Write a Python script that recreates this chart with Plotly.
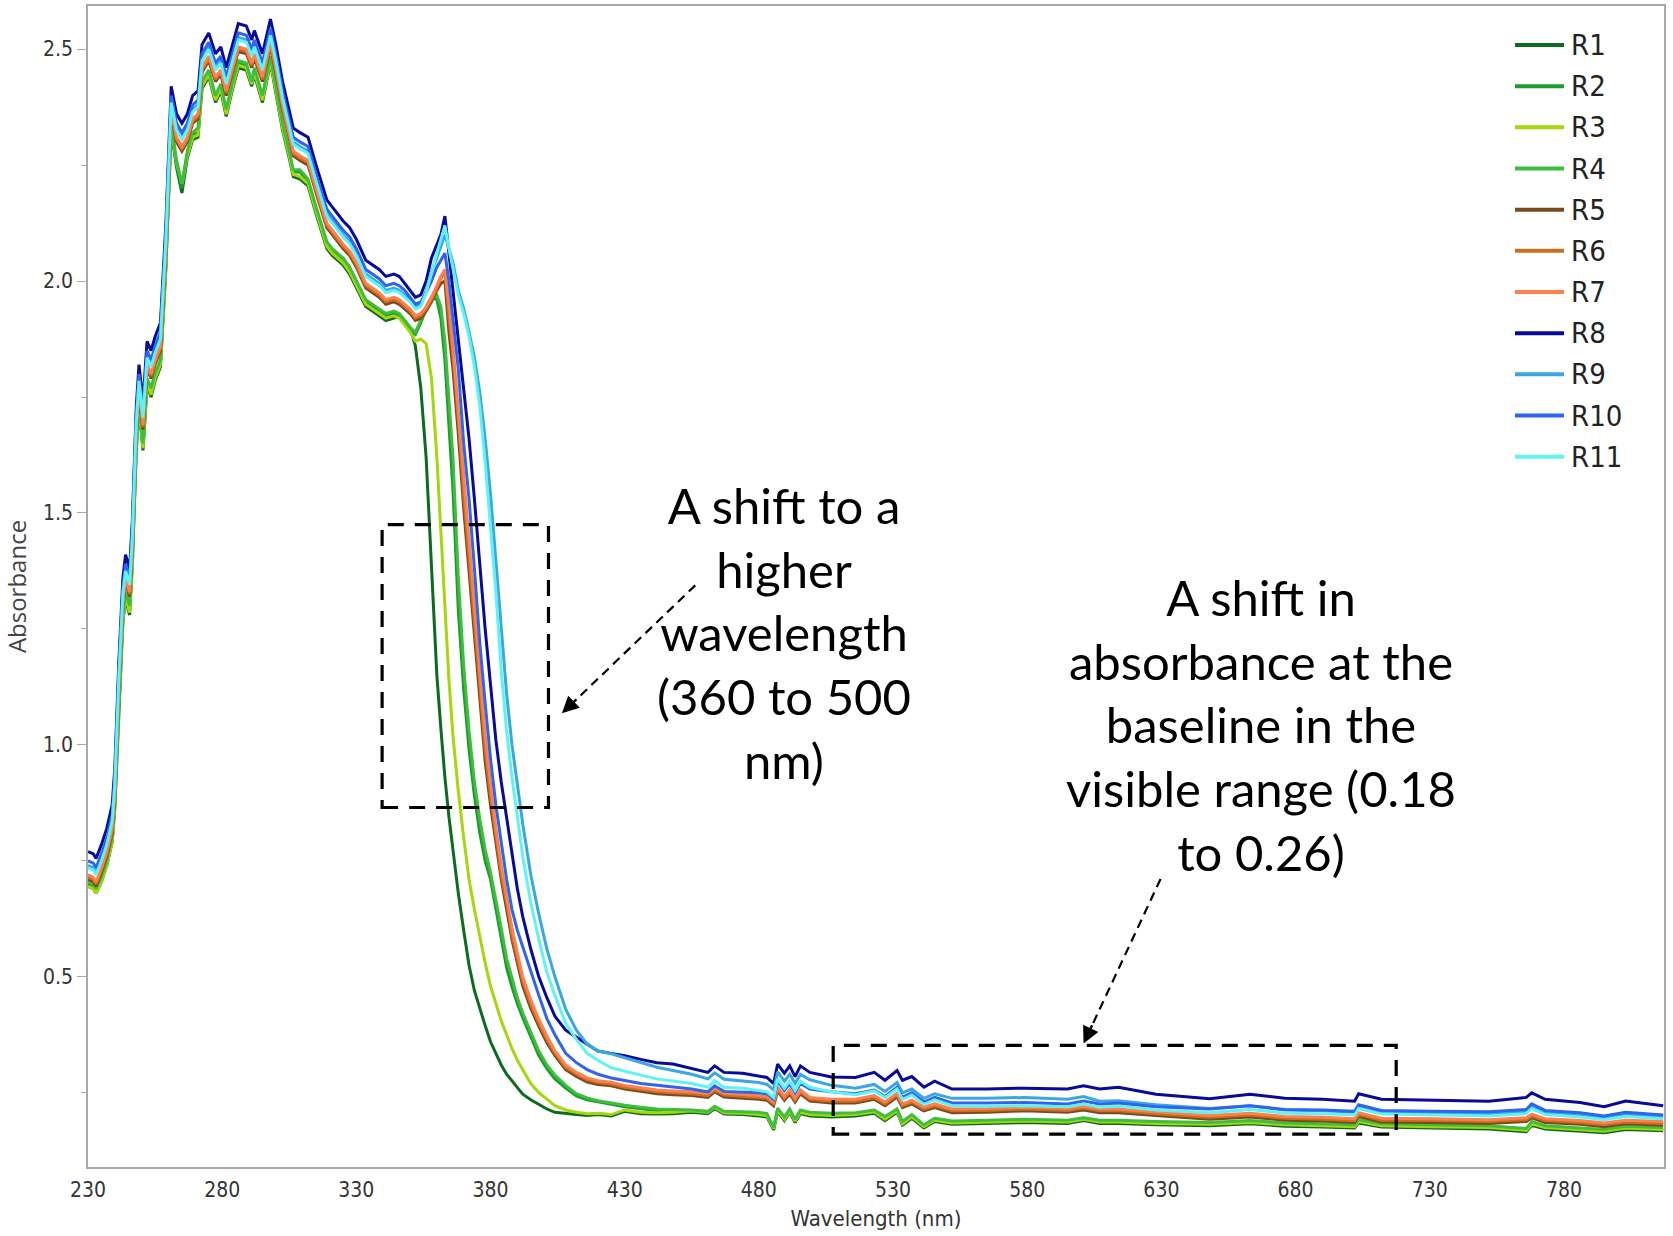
import plotly.graph_objects as go

# Wavelength grid (nm) shared by all spectra
wavelength_nm = [
    230, 232, 233, 235, 237, 239, 240, 241.5, 243, 244, 245.5, 246.5, 248, 249, 250.5, 252, 253.5, 255, 257, 259,
    261, 263, 265, 267, 269, 271, 272.5, 275, 277.5, 279.5, 281.5, 283.5, 286, 289, 291, 292, 295, 298, 300, 302.5,
    305, 306.5, 309, 312, 315, 319, 321, 325, 327.5, 330, 333.5, 338.5, 341, 344,
    346, 348, 350, 352, 354, 356, 358, 360, 361.5, 363, 364.5, 366, 368, 370, 372, 374, 376, 378, 380, 382,
    384, 386, 388, 390, 392, 395, 398, 401, 404, 408, 412, 416, 420,
    425, 430, 436, 442, 448, 455, 461, 463.5, 467, 474, 480, 483, 485.5, 487, 489.5, 491.5, 493.5, 495.5, 499, 507,
    516, 523, 527, 531.5, 533.5, 537, 541.5, 545.5, 552, 565, 579, 595, 601, 607, 614, 628, 648, 663, 676, 690,
    702, 703.5, 712, 731, 752, 766, 768, 773, 786, 795, 803, 817,
]

# Absorbance spectra
R1 = [
    0.695, 0.69, 0.68, 0.705, 0.74, 0.79, 0.865, 1.085, 1.265, 1.315, 1.28, 1.385, 1.635, 1.725, 1.635, 1.775, 1.75, 1.785, 1.815, 2.025,
    2.325, 2.245, 2.19, 2.265, 2.305, 2.31, 2.415, 2.44, 2.385, 2.41, 2.355, 2.405, 2.46, 2.455, 2.42, 2.445, 2.385, 2.47, 2.405, 2.325,
    2.265, 2.225, 2.22, 2.205, 2.145, 2.07, 2.055, 2.035, 2.015, 1.985, 1.945, 1.925, 1.915, 1.92,
    1.925, 1.915, 1.90, 1.86, 1.77, 1.62, 1.38, 1.15, 1.035, 0.93, 0.845, 0.77, 0.68, 0.60, 0.525, 0.47, 0.43, 0.395, 0.36, 0.335,
    0.31, 0.29, 0.275, 0.26, 0.247, 0.235, 0.225, 0.215, 0.208, 0.205, 0.203, 0.201, 0.203,
    0.2, 0.21, 0.205, 0.204, 0.205, 0.208, 0.205, 0.216, 0.204, 0.203, 0.2, 0.198, 0.17, 0.21, 0.19, 0.208, 0.186, 0.205, 0.2, 0.198,
    0.2, 0.206, 0.19, 0.208, 0.18, 0.195, 0.174, 0.188, 0.182, 0.184, 0.186, 0.184, 0.19, 0.184, 0.184, 0.181, 0.179, 0.183, 0.178, 0.176,
    0.174, 0.185, 0.176, 0.174, 0.172, 0.166, 0.18, 0.172, 0.168, 0.164, 0.171, 0.168,
]
R2 = [
    0.70, 0.695, 0.685, 0.71, 0.745, 0.795, 0.87, 1.095, 1.275, 1.325, 1.29, 1.395, 1.645, 1.735, 1.64, 1.785, 1.76, 1.795, 1.825, 2.035,
    2.335, 2.25, 2.20, 2.275, 2.315, 2.32, 2.425, 2.45, 2.395, 2.42, 2.365, 2.415, 2.47, 2.465, 2.425, 2.455, 2.395, 2.48, 2.415, 2.335,
    2.275, 2.235, 2.235, 2.215, 2.155, 2.08, 2.065, 2.045, 2.025, 1.995, 1.955, 1.935, 1.925, 1.93,
    1.925, 1.91, 1.895, 1.885, 1.91, 1.94, 1.965, 1.96, 1.92, 1.83, 1.69, 1.55, 1.29, 1.12, 0.99, 0.89, 0.81, 0.75, 0.71, 0.648,
    0.585, 0.52, 0.478, 0.442, 0.412, 0.37, 0.33, 0.302, 0.28, 0.26, 0.243, 0.235, 0.23,
    0.225, 0.22, 0.216, 0.212, 0.211, 0.21, 0.207, 0.218, 0.207, 0.206, 0.205, 0.202, 0.172, 0.214, 0.195, 0.212, 0.19, 0.21, 0.205, 0.203,
    0.204, 0.21, 0.196, 0.212, 0.185, 0.2, 0.178, 0.192, 0.186, 0.188, 0.19, 0.188, 0.193, 0.188, 0.188, 0.185, 0.183, 0.187, 0.182, 0.18,
    0.178, 0.189, 0.18, 0.178, 0.176, 0.17, 0.185, 0.176, 0.172, 0.168, 0.175, 0.172,
]
R3 = [
    0.695, 0.69, 0.68, 0.705, 0.74, 0.79, 0.865, 1.09, 1.27, 1.32, 1.285, 1.39, 1.64, 1.73, 1.64, 1.78, 1.755, 1.79, 1.82, 2.03,
    2.33, 2.255, 2.21, 2.27, 2.31, 2.315, 2.42, 2.445, 2.39, 2.415, 2.36, 2.41, 2.465, 2.46, 2.425, 2.45, 2.39, 2.475, 2.41, 2.33,
    2.27, 2.23, 2.225, 2.21, 2.15, 2.075, 2.06, 2.04, 2.02, 1.99, 1.95, 1.93, 1.92, 1.925,
    1.92, 1.905, 1.89, 1.87, 1.875, 1.865, 1.79, 1.62, 1.46, 1.30, 1.14, 1.02, 0.90, 0.80, 0.71, 0.645, 0.585, 0.53, 0.48, 0.44,
    0.405, 0.375, 0.345, 0.32, 0.30, 0.27, 0.25, 0.235, 0.222, 0.213, 0.208, 0.205, 0.206,
    0.203, 0.213, 0.208, 0.207, 0.208, 0.211, 0.208, 0.219, 0.207, 0.206, 0.203, 0.201, 0.173, 0.213, 0.193, 0.211, 0.189, 0.208, 0.203, 0.201,
    0.203, 0.209, 0.193, 0.211, 0.183, 0.198, 0.177, 0.191, 0.185, 0.187, 0.189, 0.187, 0.193, 0.187, 0.187, 0.184, 0.182, 0.186, 0.181, 0.179,
    0.177, 0.188, 0.179, 0.177, 0.175, 0.169, 0.183, 0.175, 0.171, 0.167, 0.174, 0.171,
]
R4 = [
    0.705, 0.70, 0.69, 0.715, 0.75, 0.80, 0.875, 1.10, 1.28, 1.33, 1.30, 1.40, 1.65, 1.74, 1.65, 1.79, 1.77, 1.80, 1.83, 2.04,
    2.34, 2.26, 2.21, 2.28, 2.32, 2.33, 2.43, 2.455, 2.40, 2.425, 2.37, 2.42, 2.475, 2.47, 2.43, 2.46, 2.40, 2.485, 2.42, 2.34,
    2.28, 2.24, 2.24, 2.22, 2.16, 2.085, 2.07, 2.05, 2.03, 2.0, 1.96, 1.94, 1.93, 1.935,
    1.93, 1.915, 1.90, 1.89, 1.915, 1.945, 1.965, 1.97, 1.945, 1.87, 1.75, 1.62, 1.36, 1.17, 1.03, 0.92, 0.84, 0.775, 0.725, 0.668,
    0.605, 0.54, 0.495, 0.455, 0.422, 0.38, 0.34, 0.31, 0.288, 0.266, 0.248, 0.239, 0.233,
    0.228, 0.223, 0.219, 0.215, 0.214, 0.213, 0.21, 0.221, 0.21, 0.209, 0.208, 0.205, 0.175, 0.217, 0.198, 0.215, 0.193, 0.213, 0.208, 0.206,
    0.207, 0.213, 0.199, 0.215, 0.188, 0.203, 0.181, 0.195, 0.189, 0.191, 0.193, 0.191, 0.196, 0.191, 0.191, 0.188, 0.186, 0.19, 0.185, 0.183,
    0.181, 0.192, 0.183, 0.181, 0.179, 0.173, 0.188, 0.179, 0.175, 0.171, 0.178, 0.175,
]
R5 = [
    0.71, 0.705, 0.695, 0.725, 0.76, 0.81, 0.89, 1.12, 1.30, 1.35, 1.32, 1.42, 1.67, 1.76, 1.68, 1.81, 1.79, 1.82, 1.85, 2.06,
    2.36, 2.30, 2.28, 2.30, 2.34, 2.35, 2.45, 2.475, 2.43, 2.445, 2.40, 2.44, 2.495, 2.49, 2.46, 2.48, 2.43, 2.505, 2.45, 2.37,
    2.31, 2.27, 2.26, 2.25, 2.19, 2.115, 2.10, 2.07, 2.055, 2.03, 1.985, 1.965, 1.95, 1.955,
    1.95, 1.94, 1.93, 1.915, 1.92, 1.935, 1.955, 1.98, 1.995, 2.0, 1.89, 1.81, 1.67, 1.51, 1.37, 1.23, 1.09, 0.965, 0.87, 0.785,
    0.71, 0.645, 0.58, 0.53, 0.48, 0.432, 0.393, 0.358, 0.33, 0.3, 0.285, 0.273, 0.268,
    0.265, 0.258, 0.253, 0.248, 0.246, 0.244, 0.24, 0.252, 0.241, 0.239, 0.236, 0.234, 0.222, 0.254, 0.234, 0.248, 0.23, 0.248, 0.232, 0.228,
    0.228, 0.236, 0.222, 0.241, 0.218, 0.226, 0.211, 0.218, 0.207, 0.208, 0.211, 0.208, 0.213, 0.207, 0.207, 0.201, 0.193, 0.198, 0.191, 0.189,
    0.186, 0.199, 0.187, 0.186, 0.184, 0.188, 0.196, 0.186, 0.182, 0.177, 0.183, 0.18,
]
R6 = [
    0.715, 0.71, 0.70, 0.73, 0.765, 0.815, 0.895, 1.125, 1.305, 1.355, 1.325, 1.425, 1.675, 1.765, 1.685, 1.815, 1.795, 1.825, 1.855, 2.065,
    2.365, 2.305, 2.285, 2.305, 2.345, 2.355, 2.455, 2.48, 2.435, 2.45, 2.405, 2.445, 2.50, 2.495, 2.465, 2.485, 2.435, 2.51, 2.455, 2.375,
    2.315, 2.275, 2.265, 2.255, 2.195, 2.12, 2.105, 2.075, 2.06, 2.035, 1.99, 1.97, 1.955, 1.96,
    1.955, 1.945, 1.935, 1.92, 1.925, 1.94, 1.96, 1.985, 2.005, 2.02, 1.92, 1.84, 1.70, 1.54, 1.40, 1.26, 1.12, 0.99, 0.89, 0.80,
    0.72, 0.66, 0.59, 0.54, 0.49, 0.44, 0.40, 0.365, 0.335, 0.305, 0.29, 0.278, 0.272,
    0.269, 0.262, 0.257, 0.252, 0.25, 0.248, 0.244, 0.256, 0.245, 0.243, 0.24, 0.238, 0.226, 0.258, 0.238, 0.252, 0.234, 0.252, 0.236, 0.232,
    0.232, 0.24, 0.226, 0.245, 0.222, 0.23, 0.215, 0.222, 0.211, 0.212, 0.215, 0.212, 0.217, 0.211, 0.211, 0.205, 0.197, 0.202, 0.195, 0.193,
    0.19, 0.203, 0.191, 0.19, 0.188, 0.192, 0.2, 0.19, 0.186, 0.181, 0.187, 0.184,
]
R7 = [
    0.72, 0.715, 0.705, 0.735, 0.77, 0.82, 0.90, 1.13, 1.31, 1.36, 1.33, 1.43, 1.68, 1.77, 1.69, 1.82, 1.80, 1.83, 1.86, 2.07,
    2.37, 2.31, 2.29, 2.31, 2.35, 2.36, 2.46, 2.485, 2.44, 2.455, 2.41, 2.45, 2.505, 2.50, 2.47, 2.49, 2.44, 2.515, 2.46, 2.38,
    2.32, 2.28, 2.27, 2.26, 2.20, 2.125, 2.11, 2.08, 2.065, 2.04, 1.995, 1.975, 1.96, 1.965,
    1.96, 1.95, 1.94, 1.925, 1.93, 1.945, 1.965, 1.99, 2.01, 2.025, 1.95, 1.86, 1.72, 1.57, 1.43, 1.29, 1.15, 1.02, 0.915, 0.82,
    0.74, 0.675, 0.605, 0.552, 0.50, 0.45, 0.408, 0.372, 0.34, 0.31, 0.294, 0.282, 0.276,
    0.273, 0.266, 0.261, 0.256, 0.254, 0.252, 0.248, 0.26, 0.249, 0.247, 0.244, 0.242, 0.23, 0.262, 0.242, 0.256, 0.238, 0.256, 0.24, 0.236,
    0.236, 0.244, 0.23, 0.249, 0.226, 0.234, 0.219, 0.226, 0.215, 0.216, 0.219, 0.216, 0.221, 0.215, 0.215, 0.209, 0.201, 0.206, 0.199, 0.197,
    0.194, 0.207, 0.195, 0.194, 0.192, 0.196, 0.204, 0.194, 0.19, 0.185, 0.191, 0.188,
]
R8 = [
    0.77, 0.765, 0.755, 0.785, 0.82, 0.87, 0.95, 1.18, 1.36, 1.41, 1.38, 1.48, 1.73, 1.82, 1.74, 1.87, 1.85, 1.88, 1.91, 2.12,
    2.42, 2.36, 2.34, 2.36, 2.40, 2.41, 2.51, 2.535, 2.49, 2.505, 2.46, 2.50, 2.555, 2.55, 2.52, 2.54, 2.49, 2.565, 2.51, 2.43,
    2.37, 2.33, 2.32, 2.31, 2.25, 2.175, 2.16, 2.13, 2.115, 2.09, 2.045, 2.025, 2.01, 2.015,
    2.01, 1.995, 1.98, 1.965, 1.97, 2.00, 2.05, 2.08, 2.10, 2.14, 2.06, 1.99, 1.88, 1.77, 1.66, 1.53, 1.38, 1.25, 1.13, 1.01,
    0.92, 0.84, 0.76, 0.69, 0.63, 0.56, 0.50, 0.455, 0.415, 0.385, 0.37, 0.355, 0.34,
    0.335, 0.330, 0.322, 0.315, 0.312, 0.303, 0.294, 0.308, 0.294, 0.292, 0.286, 0.283, 0.270, 0.312, 0.292, 0.308, 0.285, 0.308, 0.294, 0.284,
    0.283, 0.294, 0.277, 0.298, 0.277, 0.285, 0.262, 0.275, 0.258, 0.258, 0.260, 0.258, 0.265, 0.258, 0.262, 0.247, 0.237, 0.247, 0.238, 0.236,
    0.232, 0.248, 0.236, 0.234, 0.232, 0.240, 0.250, 0.236, 0.229, 0.220, 0.232, 0.222,
]
R9 = [
    0.74, 0.735, 0.725, 0.755, 0.79, 0.84, 0.92, 1.15, 1.33, 1.38, 1.35, 1.45, 1.70, 1.79, 1.71, 1.84, 1.82, 1.85, 1.88, 2.09,
    2.39, 2.33, 2.31, 2.33, 2.37, 2.38, 2.48, 2.505, 2.46, 2.475, 2.43, 2.47, 2.525, 2.52, 2.49, 2.51, 2.46, 2.535, 2.48, 2.40,
    2.34, 2.30, 2.29, 2.28, 2.22, 2.145, 2.13, 2.10, 2.085, 2.06, 2.015, 1.995, 1.98, 1.985,
    1.98, 1.97, 1.96, 1.945, 1.95, 1.98, 2.02, 2.05, 2.075, 2.10, 2.07, 2.04, 1.98, 1.94, 1.89, 1.835, 1.76, 1.66, 1.54, 1.40,
    1.25, 1.11, 1.00, 0.91, 0.83, 0.72, 0.635, 0.56, 0.50, 0.43, 0.385, 0.355, 0.34,
    0.334, 0.325, 0.315, 0.305, 0.298, 0.29, 0.28, 0.293, 0.279, 0.276, 0.272, 0.268, 0.256, 0.295, 0.275, 0.29, 0.27, 0.29, 0.278, 0.266,
    0.26, 0.268, 0.253, 0.272, 0.25, 0.258, 0.238, 0.248, 0.238, 0.238, 0.24, 0.236, 0.242, 0.232, 0.233, 0.224, 0.216, 0.222, 0.213, 0.211,
    0.208, 0.221, 0.209, 0.207, 0.205, 0.21, 0.221, 0.208, 0.203, 0.197, 0.204, 0.198,
]
R10 = [
    0.75, 0.745, 0.735, 0.765, 0.80, 0.85, 0.93, 1.16, 1.34, 1.39, 1.36, 1.46, 1.71, 1.80, 1.72, 1.85, 1.83, 1.86, 1.89, 2.10,
    2.40, 2.34, 2.32, 2.34, 2.38, 2.39, 2.49, 2.515, 2.47, 2.485, 2.44, 2.48, 2.535, 2.53, 2.50, 2.52, 2.47, 2.545, 2.49, 2.41,
    2.35, 2.31, 2.30, 2.29, 2.23, 2.155, 2.14, 2.11, 2.095, 2.07, 2.025, 2.005, 1.99, 1.995,
    1.99, 1.98, 1.965, 1.95, 1.955, 1.975, 2.00, 2.03, 2.045, 2.06, 2.00, 1.92, 1.81, 1.65, 1.53, 1.38, 1.22, 1.09, 0.97, 0.87,
    0.79, 0.71, 0.645, 0.60, 0.565, 0.51, 0.46, 0.41, 0.375, 0.335, 0.315, 0.30, 0.29,
    0.282, 0.276, 0.27, 0.266, 0.263, 0.258, 0.252, 0.265, 0.253, 0.252, 0.25, 0.248, 0.236, 0.275, 0.255, 0.27, 0.25, 0.27, 0.258, 0.252,
    0.248, 0.256, 0.242, 0.262, 0.24, 0.25, 0.23, 0.24, 0.228, 0.228, 0.229, 0.226, 0.232, 0.226, 0.228, 0.22, 0.215, 0.222, 0.214, 0.213,
    0.21, 0.224, 0.212, 0.21, 0.209, 0.214, 0.226, 0.212, 0.207, 0.2, 0.208, 0.202,
]
R11 = [
    0.735, 0.73, 0.72, 0.75, 0.785, 0.835, 0.915, 1.145, 1.325, 1.375, 1.345, 1.445, 1.695, 1.785, 1.705, 1.835, 1.815, 1.845, 1.875, 2.085,
    2.385, 2.325, 2.305, 2.325, 2.365, 2.375, 2.475, 2.50, 2.455, 2.47, 2.425, 2.465, 2.52, 2.515, 2.485, 2.505, 2.455, 2.53, 2.475, 2.395,
    2.335, 2.295, 2.285, 2.275, 2.215, 2.14, 2.125, 2.095, 2.08, 2.055, 2.01, 1.99, 1.975, 1.98,
    1.975, 1.965, 1.955, 1.94, 1.945, 1.975, 2.02, 2.06, 2.09, 2.12, 2.07, 2.03, 1.97, 1.93, 1.88, 1.815, 1.73, 1.61, 1.47, 1.33,
    1.16, 1.03, 0.93, 0.84, 0.76, 0.66, 0.58, 0.51, 0.46, 0.40, 0.365, 0.335, 0.32,
    0.304, 0.296, 0.288, 0.28, 0.276, 0.27, 0.262, 0.276, 0.262, 0.26, 0.255, 0.252, 0.24, 0.28, 0.26, 0.275, 0.255, 0.275, 0.262, 0.252,
    0.246, 0.254, 0.24, 0.258, 0.236, 0.245, 0.225, 0.235, 0.222, 0.221, 0.222, 0.22, 0.226, 0.219, 0.221, 0.213, 0.207, 0.214, 0.206, 0.205,
    0.202, 0.216, 0.204, 0.202, 0.2, 0.205, 0.216, 0.203, 0.198, 0.192, 0.199, 0.194,
]

series_names = ["R1", "R2", "R3", "R4", "R5", "R6", "R7", "R8", "R9", "R10", "R11"]
series_values = [R1, R2, R3, R4, R5, R6, R7, R8, R9, R10, R11]
series_colors = [
    "#0d6b1f", "#1f9a2c", "#a6d60c", "#3cbf3c", "#7a4a1e", "#c8701f",
    "#ff7f4d", "#0a0a98", "#3aa6e2", "#2e64f0", "#5ff3f3",
]

# Axis settings
x_range = [230, 817.3]
y_range = [0.09, 2.593]
x_tick_values = [230, 280, 330, 380, 430, 480, 530, 580, 630, 680, 730, 780]
y_tick_values = [0.5, 1.0, 1.5, 2.0, 2.5]

# Annotation texts
note_shift = "A shift to a<br>higher<br>wavelength<br>(360 to 500<br>nm)"
note_baseline = "A shift in<br>absorbance at the<br>baseline in the<br>visible range (0.18<br>to 0.26)"

narrow = "Liberation Sans Narrow, Arial Narrow, DejaVu Sans Condensed, Roboto Condensed, Liberation Sans, sans-serif"
callout_font = "Lato, Carlito, Calibri, Open Sans, sans-serif"

fig = go.Figure()
for name, values, color in zip(series_names, series_values, series_colors):
    fig.add_trace(go.Scatter(
        x=wavelength_nm, y=values, mode="lines", name=name,
        line=dict(color=color, width=3), showlegend=False,
    ))

# Plot frame geometry in pixels (used for the hand-placed legend)
W, H = 1673, 1236
ML, MR, MT, MB = 88, 9, 6, 69
plot_w = W - ML - MR
plot_h = H - MT - MB

def px_to_paper_x(px):
    return (px - ML) / plot_w

def px_to_paper_y(py):
    return (H - MB - py) / plot_h

shapes = []
annotations = []

# Legend: coloured line samples with labels, top right inside the plot
for i, (name, color) in enumerate(zip(series_names, series_colors)):
    row_y = 45 + 41.17 * i
    shapes.append(dict(
        type="line", xref="paper", yref="paper",
        x0=px_to_paper_x(1515), x1=px_to_paper_x(1564),
        y0=px_to_paper_y(row_y), y1=px_to_paper_y(row_y),
        line=dict(color=color, width=4),
    ))
    annotations.append(dict(
        x=px_to_paper_x(1569), y=px_to_paper_y(row_y), xref="paper", yref="paper",
        text=name, showarrow=False, xanchor="left", yanchor="middle",
        font=dict(family=narrow, size=29, color="#222222"),
    ))

# Dashed boxes highlighting the edge shift and the baseline shift
box_style = dict(color="black", width=3.2, dash="16px,11px")
shapes.append(dict(type="rect", xref="x", yref="y", x0=339.6, x1=401.6, y0=0.865, y1=1.475,
                   line=box_style, fillcolor="rgba(0,0,0,0)"))
shapes.append(dict(type="rect", xref="x", yref="y", x0=507.7, x1=717.5, y0=0.161, y1=0.352,
                   line=box_style, fillcolor="rgba(0,0,0,0)"))

# Dashed arrows from the callouts to the boxes
arrows = [
    ((456.3, 1.344), (406.6, 1.068)),
    ((629.7, 0.711), (601.0, 0.356)),
]
for (sx, sy), (tx, ty) in arrows:
    f = 0.12
    mx, my = tx + (sx - tx) * f, ty + (sy - ty) * f
    shapes.append(dict(type="line", xref="x", yref="y", x0=sx, y0=sy, x1=mx, y1=my,
                       line=dict(color="black", width=2.2, dash="9px,6px")))
    annotations.append(dict(
        x=tx, y=ty, ax=mx, ay=my, xref="x", yref="y", axref="x", ayref="y",
        text="", showarrow=True, arrowhead=2, arrowsize=1.4, arrowwidth=2.4,
        arrowcolor="black", standoff=0, startstandoff=0,
    ))

annotations.append(dict(
    x=489.2, y=1.243, xref="x", yref="y", text=note_shift, showarrow=False,
    xanchor="center", yanchor="middle", align="center",
    font=dict(family=callout_font, size=49, color="black"),
))
annotations.append(dict(
    x=667.0, y=1.043, xref="x", yref="y", text=note_baseline, showarrow=False,
    xanchor="center", yanchor="middle", align="center",
    font=dict(family=callout_font, size=49, color="black"),
))

axis_line = "#a8a8a8"
fig.update_layout(
    width=W, height=H,
    margin=dict(l=ML, r=MR, t=MT, b=MB),
    paper_bgcolor="white", plot_bgcolor="white",
    showlegend=False,
    shapes=shapes, annotations=annotations,
    xaxis=dict(
        range=x_range, tickmode="array", tickvals=x_tick_values,
        ticktext=[str(v) for v in x_tick_values],
        showgrid=False, zeroline=False, showline=True, mirror=True,
        linecolor=axis_line, linewidth=1.5, ticks="", ticklabelstandoff=3,
        tickfont=dict(family=narrow, size=21, color="#333333"),
        title=dict(text="Wavelength (nm)", standoff=10,
                   font=dict(family=narrow, size=22, color="#333333")),
        automargin=False,
    ),
    yaxis=dict(
        range=y_range, tickmode="array", tickvals=y_tick_values,
        ticktext=[f"{v:.1f}" for v in y_tick_values],
        showgrid=False, zeroline=False, showline=True, mirror=True,
        linecolor=axis_line, linewidth=1.5,
        ticks="outside", ticklen=9, tickwidth=1.2, tickcolor=axis_line,
        minor=dict(dtick=0.25, tick0=0.25, ticks="outside", ticklen=5, tickcolor=axis_line, tickwidth=1.2),
        tickfont=dict(family=narrow, size=21, color="#333333"),
        title=dict(text="Absorbance", standoff=10,
                   font=dict(family="Open Sans, DejaVu Sans, sans-serif", size=24, color="#444444")),
        automargin=False,
    ),
)

fig.write_html("out.html")
